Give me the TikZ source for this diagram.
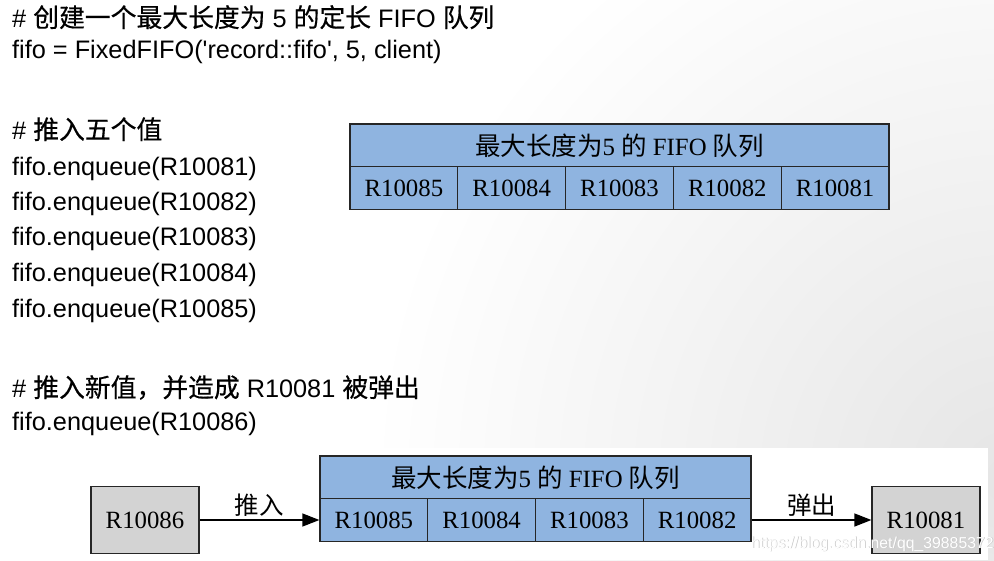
\documentclass[tikz,border=0pt]{standalone}
\usepackage{fontspec}
\setmainfont{Liberation Sans}
\newfontfamily\zh{Noto Sans CJK SC}
\newfontfamily\zhb{Noto Sans CJK SC}[FakeBold=0.5,Scale=1.02]
\newfontfamily\tabfont{Liberation Serif}
\usetikzlibrary{arrows.meta}
\definecolor{fifoblue}{RGB}{143,180,224}
\definecolor{itemgray}{RGB}{211,211,211}
\tikzset{
  code/.style={anchor=base west, inner sep=0pt, font=\fontsize{25.3}{30}\selectfont},
  cell/.style={draw=black!85, line width=1.2pt, fill=fifoblue, minimum width=107.8pt,
    minimum height=42.5pt, inner sep=0pt, font=\tabfont\fontsize{24.8}{28}\selectfont},
  head/.style={cell, minimum height=43pt},
  item/.style={cell, fill=itemgray, minimum width=108pt, minimum height=67pt},
  push/.style={-{Triangle[length=17pt,width=13pt]}, line width=1.3pt},
  elabel/.style={above, inner sep=3pt, font=\zh\fontsize{24.5}{28}\selectfont},
  wmark/.style={anchor=base west, inner sep=0pt, font=\fontsize{15.8}{19}\selectfont}
}
\newcommand\hzh[1]{{\zh\fontsize{25.5}{28}\selectfont #1}}
\begin{document}
\begin{tikzpicture}[x=1pt,y=-1pt]
  \useasboundingbox[fill=white] (0,0) rectangle (994,560);
  % faint shadow of the slide, lower right
  \begin{scope}
    \clip (0,0) rectangle (994,560);
    \shade[inner color=gray!20, outer color=white] (1010,480) circle (640);
    \fill[white] (88,448) rectangle (988,560);
  \end{scope}

  % code on the left
  \node[code] (c1) at (12,27) {\# {\zhb 创建一个最大长度为} 5 {\zhb 的定长} FIFO {\zhb 队列}};
  \node[code] (c2) at (12,58) {fifo = FixedFIFO(\textquotesingle record::fifo\textquotesingle, 5, client)};
  \node[code] (c3) at (12,139) {\# {\zhb 推入五个值}};
  \foreach \v/\y in {81/175,82/210,83/245,84/281,85/317}
    \node[code] (enq\v) at (12,\y) {fifo.enqueue(R100\v)};
  \node[code] (c4) at (12,397) {\# {\zhb 推入新值，并造成} R10081 {\zhb 被弹出}};
  \node[code] (c5) at (12,430) {fifo.enqueue(R10086)};

  % full queue
  \node[head, minimum width=539pt] (tophead) at (619.5,145.5) {\hzh{最大长度为}5 \hzh{的} FIFO \hzh{队列}};
  \foreach \i/\v in {1/85,2/84,3/83,4/82,5/81}
    \node[cell] (top\i) at ({350+107.8*(\i-0.5)},188) {R100\v};

  % queue after the push
  \node[head, minimum width=431pt] (bothead) at (535.5,477.5) {\hzh{最大长度为}5 \hzh{的} FIFO \hzh{队列}};
  \foreach \i/\v in {1/85,2/84,3/83,4/82}
    \node[cell] (bot\i) at ({320+107.75*(\i-0.5)},520) {R100\v};
  \node[item] (new) at (145,520) {R10086};
  \node[item] (out) at (926,520) {R10081};
  \draw[push] (new) -- node[elabel] {推入} (bot1);
  \draw[push] (bot4) -- node[elabel] {弹出} (out);

  \node[wmark, text=gray!45] (markshadow) at (751.7,548.7) {https://blog.csdn.net/qq\_39885372};
  \node[wmark, text=white] (mark) at (751,548) {https://blog.csdn.net/qq\_39885372};
\end{tikzpicture}
\end{document}
